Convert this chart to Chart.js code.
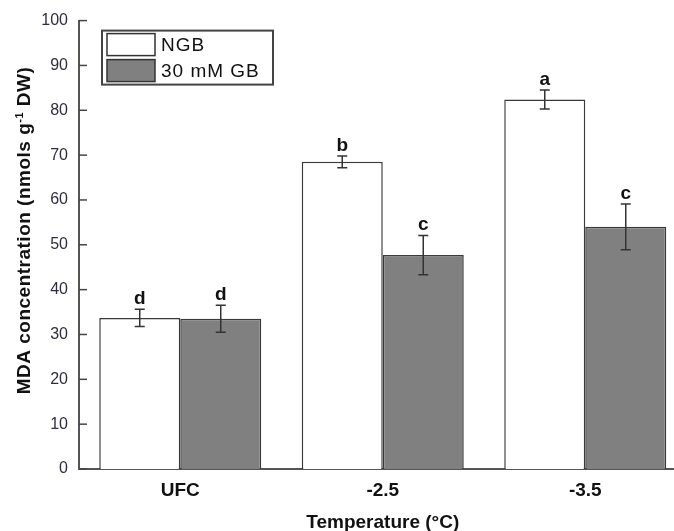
<!DOCTYPE html>
<html>
<head>
<meta charset="utf-8">
<script src="https://cdn.jsdelivr.net/npm/chart.js@4.4.1/dist/chart.umd.min.js"></script>
<style>
  html, body { margin: 0; padding: 0; background: #fff; overflow: hidden; }
  #wrap { width: 700px; height: 540px; }
</style>
</head>
<body>
<div id="wrap"><canvas id="mdaChart" width="700" height="540"></canvas></div>
<script>
const categories = ['UFC', '-2.5', '-3.5'];
const ngbValues = [33.7, 68.5, 82.4];
const ngbErrors = [1.9, 1.3, 2.1];
const ngbLetters = ['d', 'b', 'a'];
const gbValues = [33.5, 47.7, 54.0];
const gbErrors = [3.0, 4.4, 5.1];
const gbLetters = ['d', 'c', 'c'];
const yTicks = [0, 10, 20, 30, 40, 50, 60, 70, 80, 90, 100];

const FONT = '"Liberation Sans", Arial, sans-serif';
const errors = [ngbErrors, gbErrors];
const letters = [ngbLetters, gbLetters];

// Error bars and significance letters on top of the bars
const errorBarPlugin = {
    id: 'errorBars',
    afterDatasetsDraw(chart) {
        const ctx = chart.ctx;
        const y = chart.scales.y;
        ctx.save();
        chart.data.datasets.forEach((ds, i) => {
            const meta = chart.getDatasetMeta(i);
            meta.data.forEach((bar, j) => {
                const v = ds.data[j];
                const e = errors[i][j];
                const top = y.getPixelForValue(v + e);
                const bottom = y.getPixelForValue(v - e);
                ctx.strokeStyle = '#333';
                ctx.lineWidth = 1.5;
                ctx.beginPath();
                ctx.moveTo(bar.x, top);
                ctx.lineTo(bar.x, bottom);
                ctx.moveTo(bar.x - 5, top);
                ctx.lineTo(bar.x + 5, top);
                ctx.moveTo(bar.x - 5, bottom);
                ctx.lineTo(bar.x + 5, bottom);
                ctx.stroke();

                ctx.fillStyle = '#111';
                ctx.font = 'bold 19px ' + FONT;
                ctx.textAlign = 'center';
                ctx.textBaseline = 'alphabetic';
                ctx.fillText(letters[i][j], bar.x, top - 5);
            });
        });
        ctx.restore();
    }
};

// Inward tick marks, y title with superscript, boxed legend
const decorPlugin = {
    id: 'decor',
    afterDraw(chart) {
        const ctx = chart.ctx;
        const area = chart.chartArea;
        const y = chart.scales.y;
        ctx.save();

        ctx.strokeStyle = '#444';
        ctx.lineWidth = 1.5;
        yTicks.forEach(t => {
            const py = y.getPixelForValue(t);
            ctx.beginPath();
            ctx.moveTo(area.left, py);
            ctx.lineTo(area.left + 8, py);
            ctx.stroke();
        });

        // y axis title
        ctx.letterSpacing = '0.5px';
        const main = 'bold 19px ' + FONT;
        const sup = 'bold 11px ' + FONT;
        const p1 = 'MDA concentration (nmols g';
        const p2 = '-1';
        const p3 = ' DW)';
        ctx.font = main;
        const w1 = ctx.measureText(p1).width;
        const w3 = ctx.measureText(p3).width;
        ctx.font = sup;
        const w2 = ctx.measureText(p2).width;
        const total = w1 + w2 + w3;
        ctx.translate(30, 230.5);
        ctx.rotate(-Math.PI / 2);
        ctx.fillStyle = '#111';
        ctx.textAlign = 'left';
        ctx.textBaseline = 'alphabetic';
        let x0 = -total / 2;
        ctx.font = main;
        ctx.fillText(p1, x0, 0);
        x0 += w1;
        ctx.font = sup;
        ctx.fillText(p2, x0, -7);
        x0 += w2;
        ctx.font = main;
        ctx.fillText(p3, x0, 0);
        ctx.setTransform(1, 0, 0, 1, 0, 0);
        ctx.restore();

        // legend
        ctx.save();
        const lx = area.left + 23;
        const ly = area.top + 10;
        ctx.strokeStyle = '#444';
        ctx.lineWidth = 2;
        ctx.strokeRect(lx, ly, 171, 54);
        chart.data.datasets.forEach((ds, i) => {
            const sy = ly + 3 + i * 26;
            ctx.fillStyle = ds.backgroundColor;
            ctx.fillRect(lx + 5, sy, 48, 22);
            ctx.strokeStyle = '#333';
            ctx.lineWidth = 1.5;
            ctx.strokeRect(lx + 5, sy, 48, 22);
            ctx.fillStyle = '#111';
            ctx.font = '19px ' + FONT;
            ctx.letterSpacing = '1px';
            ctx.textAlign = 'left';
            ctx.textBaseline = 'middle';
            ctx.fillText(ds.label, lx + 59, sy + 12);
        });
        ctx.restore();
    }
};

const config = {
    type: 'bar',
    data: {
        labels: categories,
        datasets: [
            {
                label: 'NGB',
                data: ngbValues,
                backgroundColor: '#ffffff',
                borderColor: '#3a3a3a',
                borderWidth: 1.5
            },
            {
                label: '30 mM GB',
                data: gbValues,
                backgroundColor: '#808080',
                borderColor: '#3a3a3a',
                borderWidth: 1.5
            }
        ]
    },
    options: {
        responsive: false,
        animation: false,
        devicePixelRatio: 1,
        layout: { padding: { top: 19, right: 13.5, left: 0, bottom: 0 } },
        datasets: { bar: { categoryPercentage: 0.8, barPercentage: 1.0 } },
        plugins: {
            legend: { display: false },
            tooltip: { enabled: false }
        },
        scales: {
            x: {
                grid: { display: false, drawTicks: false },
                border: { display: true, color: '#555', width: 2 },
                ticks: {
                    color: '#111',
                    font: { family: FONT, size: 19, weight: 'bold' },
                    padding: 10
                },
                title: {
                    display: true,
                    text: 'Temperature (°C)',
                    color: '#111',
                    font: { family: FONT, size: 19, weight: 'bold' },
                    padding: { top: 0, bottom: 6 }
                },
                afterFit(scale) { scale.height = 71; }
            },
            y: {
                min: 0,
                max: 100,
                afterBuildTicks(scale) { scale.ticks = yTicks.map(v => ({ value: v })); },
                grid: { display: false, drawTicks: false },
                border: { display: true, color: '#555', width: 2 },
                ticks: {
                    color: '#2e2e3e',
                    font: { family: FONT, size: 16 },
                    padding: 11
                },
                afterFit(scale) { scale.width = 79; }
            }
        }
    },
    plugins: [errorBarPlugin, decorPlugin]
};

new Chart(document.getElementById('mdaChart'), config);
</script>
</body>
</html>
